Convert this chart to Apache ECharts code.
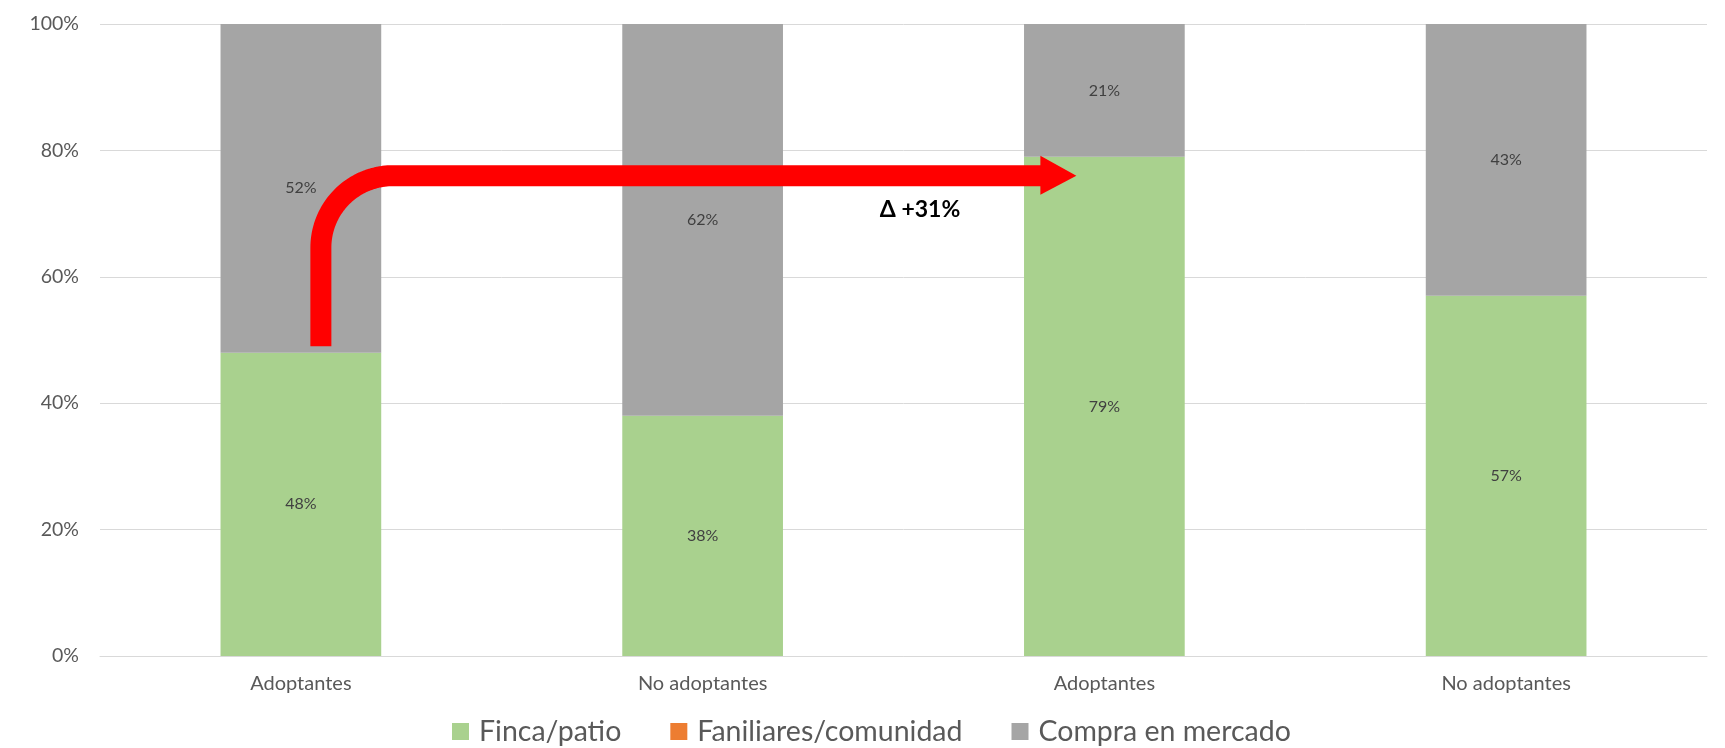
<!DOCTYPE html>
<html>
<head>
<meta charset="utf-8">
<script src="https://cdn.jsdelivr.net/npm/echarts@6/dist/echarts.min.js"></script>
<style>html,body{margin:0;padding:0;background:#fff}#c{width:1725px;height:748px}</style>
</head>
<body>
<div id="c"></div>
<script>
const categories = ['Adoptantes', 'No adoptantes', 'Adoptantes', 'No adoptantes'];
const fincaPatio = [48, 38, 79, 57];
const familiares = [0, 0, 0, 0];
const compraMercado = [52, 62, 21, 43];
const yTicks = [0, 20, 40, 60, 80, 100];
const arrowStartValue = 49;   // arrow tail level (%)
const arrowLevelValue = 76;   // horizontal arrow level (%)
const deltaLabel = 'Δ +31%';

const FONT = 'Lato';
const chart = echarts.init(document.getElementById('c'));
const labelStyle = {show: true, position: 'inside', formatter: '{c}%', color: '#404040', fontSize: 16, fontFamily: FONT};
chart.setOption({
  animation: false,
  grid: {left: 100, right: 18, top: 24, bottom: 92},
  legend: {
    left: 447, top: 712, icon: 'rect', itemWidth: 17, itemHeight: 17, itemGap: 49,
    textStyle: {color: '#595959', fontSize: 28.5, fontFamily: FONT, padding: [0, 0, 0, 5]},
    data: ['Finca/patio', 'Faniliares/comunidad', 'Compra en mercado']
  },
  xAxis: {
    type: 'category', data: categories,
    axisLine: {lineStyle: {color: '#D9D9D9', width: 1}},
    axisTick: {show: false},
    axisLabel: {color: '#595959', fontSize: 20, fontFamily: FONT, margin: 18}
  },
  yAxis: {
    type: 'value', min: yTicks[0], max: yTicks[yTicks.length - 1], interval: 20,
    axisLabel: {formatter: '{value}%', color: '#595959', fontSize: 19.5, fontFamily: FONT, margin: 21},
    axisLine: {show: false}, axisTick: {show: false},
    splitLine: {lineStyle: {color: '#D9D9D9', width: 1}}
  },
  series: [
    {name: 'Finca/patio', type: 'bar', stack: 's', data: fincaPatio, barWidth: '40%', itemStyle: {color: '#A9D18E'}, label: labelStyle},
    {name: 'Faniliares/comunidad', type: 'bar', stack: 's', data: familiares, itemStyle: {color: '#ED7D31'}, label: {show: false}},
    {name: 'Compra en mercado', type: 'bar', stack: 's', data: compraMercado, itemStyle: {color: '#A5A5A5'}, label: labelStyle}
  ]
});

function drawArrow() {
  const p0 = chart.convertToPixel({seriesIndex: 0}, [0, arrowStartValue]);
  const p1 = chart.convertToPixel({seriesIndex: 0}, [2, arrowLevelValue]);
  const x0 = p0[0] + 20, yb = p0[1];
  const yh = p1[1];
  const tipX = p1[0] - 28;
  const headBase = tipX - 36;
  const r = 72, w = 21;
  const red = '#FF0000';
  const pts = [[x0, yb]];
  for (let i = 0; i <= 48; i++) {
    const a = Math.PI + (Math.PI / 2) * i / 48;
    pts.push([x0 + r + r * Math.cos(a), yh + r + r * Math.sin(a)]);
  }
  pts.push([headBase + 1, yh]);
  chart.setOption({
    graphic: [
      {type: 'polyline', z: 100, shape: {points: pts}, style: {stroke: red, lineWidth: w, fill: null, lineCap: 'butt', lineJoin: 'round'}},
      {type: 'polygon', z: 100, shape: {points: [[headBase, yh - 20], [tipX, yh], [headBase, yh + 19]]}, style: {fill: red}},
      {type: 'text', z: 100, x: 920, y: yh + 34, style: {text: deltaLabel, fill: '#000', font: 'bold 23px ' + FONT, align: 'center', verticalAlign: 'middle'}}
    ]
  });
}
drawArrow();
</script>
</body>
</html>
